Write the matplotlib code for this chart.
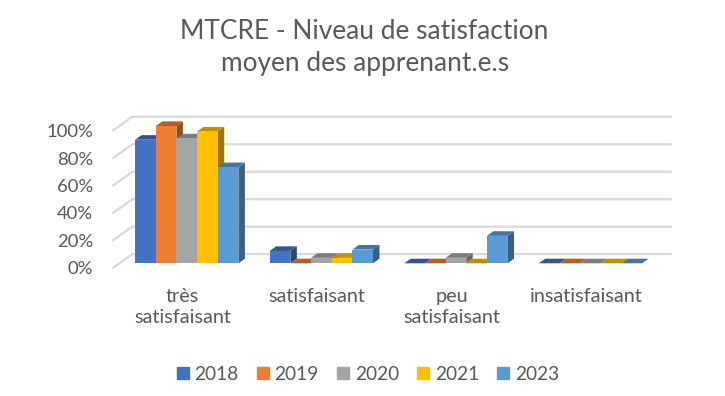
import numpy as np
import matplotlib
matplotlib.use("Agg")
import matplotlib.pyplot as plt
from matplotlib.patches import Polygon, Patch
from matplotlib.colors import to_rgb

plt.rcParams["font.family"] = ["Lato", "DejaVu Sans"]

# data
categories = ["très\nsatisfaisant", "satisfaisant", "peu\nsatisfaisant", "insatisfaisant"]
years = ["2018", "2019", "2020", "2021", "2023"]
v2018 = [0.90, 0.09, 0.00, 0.00]
v2019 = [1.00, 0.00, 0.00, 0.00]
v2020 = [0.91, 0.04, 0.04, 0.00]
v2021 = [0.96, 0.04, 0.00, 0.00]
v2023 = [0.70, 0.10, 0.20, 0.00]
series = [v2018, v2019, v2020, v2021, v2023]
colors = ["#4472C4", "#ED7D31", "#A5A5A5", "#FFC000", "#5B9BD5"]
yticks = [0, 0.2, 0.4, 0.6, 0.8, 1.0]

txt = "#595959"
grid = "#D9D9D9"

# fake 3d geometry (data units)
WALL_DX, WALL_DY = 0.141, 0.099
BAR_X0, BAR_Y0 = 0.046, 0.032
BAR_DX, BAR_DY = 0.048, 0.0335
W = 0.1535
G0 = (1 - 5 * W) / 2


def shade(c, f):
    r, g, b = to_rgb(c)
    return (r * f, g * f, b * f)


fig = plt.figure(figsize=(7.25, 3.96), dpi=100)
ax = fig.add_axes([113.3 / 725, 128.3 / 396, 538.3 / 725, 137.3 / 396])
ax.set_xlim(0, 4)
ax.set_ylim(0, 1)
ax.axis("off")

# back wall gridlines
for v in yticks:
    ax.plot([0, WALL_DX, 4 + WALL_DX], [v, v + WALL_DY, v + WALL_DY],
            color=grid, lw=1.6, clip_on=False, zorder=1)
    ax.text(-0.149, v - 0.012, f"{int(round(v * 100))}%", ha="right", va="center",
            fontsize=13.3, color=txt)

# bars
for ci in range(len(categories)):
    for si, vals in enumerate(series):
        v = vals[ci]
        xl = ci + G0 + si * W + BAR_X0
        yb = BAR_Y0
        yt = yb + v
        z = 3 + ci * 10 + si
        side = Polygon([(xl + W, yb), (xl + W + BAR_DX, yb + BAR_DY),
                        (xl + W + BAR_DX, yt + BAR_DY), (xl + W, yt)],
                       closed=True, fc=shade(colors[si], 0.62), ec="none",
                       clip_on=False, zorder=z)
        top = Polygon([(xl, yt), (xl + BAR_DX, yt + BAR_DY),
                       (xl + W + BAR_DX, yt + BAR_DY), (xl + W, yt)],
                      closed=True, fc=shade(colors[si], 0.75), ec="none",
                      clip_on=False, zorder=z)
        ax.add_patch(side)
        ax.add_patch(top)
        if v > 0:
            ax.bar(xl, v, width=W, bottom=yb, align="edge", color=colors[si],
                   clip_on=False, zorder=z)

for ci, lab in enumerate(categories):
    ax.text(ci + 0.5 + 0.015, -0.15, lab, ha="center", va="top",
            fontsize=14.3, color=txt, linespacing=1.3)

fig.text(0.503, 0.88, "MTCRE - Niveau de satisfaction\nmoyen des apprenant.e.s",
         ha="center", va="center", fontsize=18.9, color=txt, linespacing=1.35)

handles = [Patch(color=c) for c in colors]
fig.legend(handles, years, ncol=5, loc="center", bbox_to_anchor=(368 / 725, 1 - 374 / 396),
           frameon=False, fontsize=13.8, labelcolor=txt, handlelength=0.62,
           handleheight=0.62, handletextpad=0.3, columnspacing=0.95)

fig.savefig("out.png", dpi=100)
